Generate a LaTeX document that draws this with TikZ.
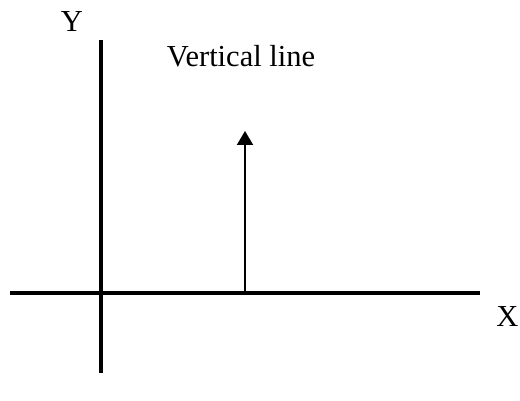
\documentclass[tikz,border=0pt]{standalone}
\usepackage{fontspec}
\setmainfont{Liberation Serif}
\usetikzlibrary{arrows.meta}
\begin{document}
\begin{tikzpicture}[x=1pt,y=1pt,
  axis/.style={line width=3.5pt},
  vec/.style={line width=2pt,-{Triangle[width=16pt,length=14pt]}},
  lbl/.style={font=\fontsize{30.5}{36}\selectfont,inner sep=0pt,anchor=base}]
  \useasboundingbox (0,0) rectangle (520,401);
  % axes
  \coordinate (ytop) at (101,361);
  \coordinate (ybot) at (101,28);
  \coordinate (xleft) at (10,108);
  \coordinate (xright) at (480,108);
  \draw[axis] (ybot) -- (ytop);
  \draw[axis] (xleft) -- (xright);
  % vertical vector standing on the x axis
  \coordinate (vbase) at (245,108);
  \coordinate (vtip) at (245,270);
  \draw[vec] (vbase) -- (vtip);
  % labels
  \node[lbl] (ylabel) at (72,369) {Y};
  \node[lbl] (xlabel) at (507.5,74) {X};
  \node[lbl] (vlabel) at (241,334) {Vertical line};
\end{tikzpicture}
\end{document}
